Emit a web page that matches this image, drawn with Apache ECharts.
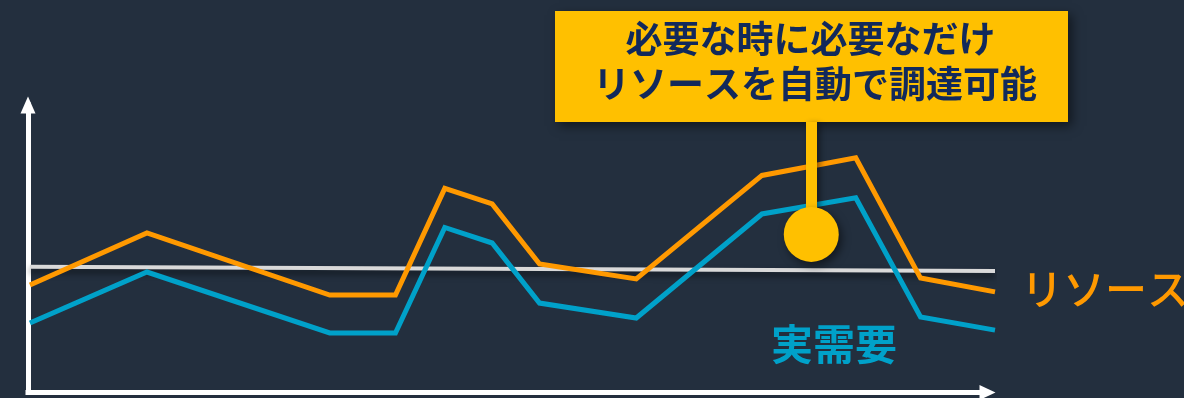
<!DOCTYPE html>
<html>
<head>
<meta charset="utf-8">
<script src="https://cdn.jsdelivr.net/npm/echarts@6/dist/echarts.min.js"></script>
<style>
html,body{margin:0;padding:0;background:#232f3e;}
#c{width:1184px;height:398px;}
</style>
</head>
<body>
<div id="c"></div>
<script>
// time positions (0..100 on the plotting grid)
const timePoints = [0.2, 12.3, 31.2, 38.0, 43.1, 48.0, 52.9, 62.9, 75.9, 85.6, 92.3, 100];
// provisioned resources (orange)
const resources = [37.4, 55.5, 33.9, 33.9, 71.0, 65.6, 44.7, 39.5, 75.5, 81.6, 39.8, 35.0];
// actual demand (blue)
const demand = [24.2, 41.9, 20.7, 20.7, 57.4, 52.0, 31.1, 25.9, 62.1, 67.7, 26.3, 21.7];
// fixed capacity (white)
const fixedX = [0.2, 100];
const fixedY = [43.7, 42.3];
// callout anchor
const calloutPoint = [81.0, 55.0];
const calloutTop = 94.1;

const labelResources = 'リソース';
const labelDemand = '実需要';
const calloutLines = ['必要な時に必要なだけ', 'リソースを自動で調達可能'];

const FONT = '"Noto Sans CJK JP", "Noto Sans", sans-serif';
const ORANGE = '#ff9900';
const BLUE = '#00a1c9';
const YELLOW = '#ffc000';

const zip = (xs, ys) => xs.map((x, i) => [x, ys[i]]);
const hiddenAxis = {type: 'value', min: 0, max: 100, show: false};

const chart = echarts.init(document.getElementById('c'), null, {renderer: 'canvas'});
chart.setOption({
  backgroundColor: '#232f3e',
  animation: false,
  grid: [
    {left: 28, right: 196.5, top: 105, bottom: 5.5, containLabel: false},   // visible axes (arrow-centred ends)
    {left: 28, right: 189, top: 105, bottom: 5.5, containLabel: false}      // plotting area
  ],
  xAxis: [
    {
      gridIndex: 0, type: 'value', min: 0, max: 100,
      axisLine: {show: true, onZero: false, symbol: ['none', 'triangle'], symbolSize: [15, 16],
        lineStyle: {color: '#ffffff', width: 5, cap: 'square'}},
      axisTick: {show: false}, axisLabel: {show: false}, splitLine: {show: false}
    },
    Object.assign({gridIndex: 1}, hiddenAxis)
  ],
  yAxis: [
    {
      gridIndex: 0, type: 'value', min: 0, max: 100,
      axisLine: {show: true, onZero: false, symbol: ['none', 'triangle'], symbolSize: [15, 17],
        lineStyle: {color: '#ffffff', width: 5, cap: 'square'}},
      axisTick: {show: false}, axisLabel: {show: false}, splitLine: {show: false}
    },
    Object.assign({gridIndex: 1}, hiddenAxis)
  ],
  series: [
    {
      type: 'line', xAxisIndex: 1, yAxisIndex: 1, data: zip(fixedX, fixedY), symbol: 'none', z: 2,
      lineStyle: {color: '#d9d9d9', width: 4, shadowColor: 'rgba(0,0,0,0.55)', shadowBlur: 6, shadowOffsetY: 4}
    },
    {
      type: 'line', xAxisIndex: 1, yAxisIndex: 1, data: zip(timePoints, resources), symbol: 'none', z: 3,
      lineStyle: {color: ORANGE, width: 5, join: 'miter'},
      endLabel: {show: true, formatter: labelResources, color: ORANGE, fontSize: 42, fontFamily: FONT,
        fontWeight: 500, distance: 26, offset: [0, -3]}
    },
    {
      type: 'line', xAxisIndex: 1, yAxisIndex: 1, data: zip(timePoints, demand), symbol: 'none', z: 3,
      lineStyle: {color: BLUE, width: 5, join: 'miter'}
    },
    {
      type: 'line', xAxisIndex: 1, yAxisIndex: 1, data: [], z: 5, symbol: 'none',
      markLine: {
        silent: true, symbol: ['none', 'none'], label: {show: false},
        lineStyle: {color: YELLOW, width: 11, type: 'solid', opacity: 1,
          shadowColor: 'rgba(0,0,0,0.45)', shadowBlur: 6, shadowOffsetX: 3, shadowOffsetY: 2},
        data: [[{coord: calloutPoint}, {coord: [calloutPoint[0], calloutTop]}]]
      },
      markPoint: {
        silent: true, symbol: 'circle', symbolSize: 55, label: {show: false},
        itemStyle: {color: YELLOW, shadowColor: 'rgba(0,0,0,0.5)', shadowBlur: 8, shadowOffsetX: 3, shadowOffsetY: 4},
        data: [{coord: calloutPoint}]
      }
    }
  ],
  graphic: [
    {
      type: 'group', z: 10,
      children: [
        {type: 'rect', shape: {x: 555, y: 11, width: 513, height: 111},
          style: {fill: YELLOW, shadowColor: 'rgba(0,0,0,0.5)', shadowBlur: 10, shadowOffsetX: 4, shadowOffsetY: 4}},
        {type: 'text', x: 810.5, y: 39, style: {text: calloutLines[0], font: 'bold 37px ' + FONT, fill: '#12295b', align: 'center', verticalAlign: 'middle'}},
        {type: 'text', x: 815, y: 84, style: {text: calloutLines[1], font: 'bold 37px ' + FONT, fill: '#12295b', align: 'center', verticalAlign: 'middle'}}
      ]
    },
    {type: 'text', z: 10, x: 771, y: 344, style: {text: labelDemand, font: 'bold 42px ' + FONT, fill: BLUE, align: 'left', verticalAlign: 'middle'}}
  ]
});
</script>
</body>
</html>
